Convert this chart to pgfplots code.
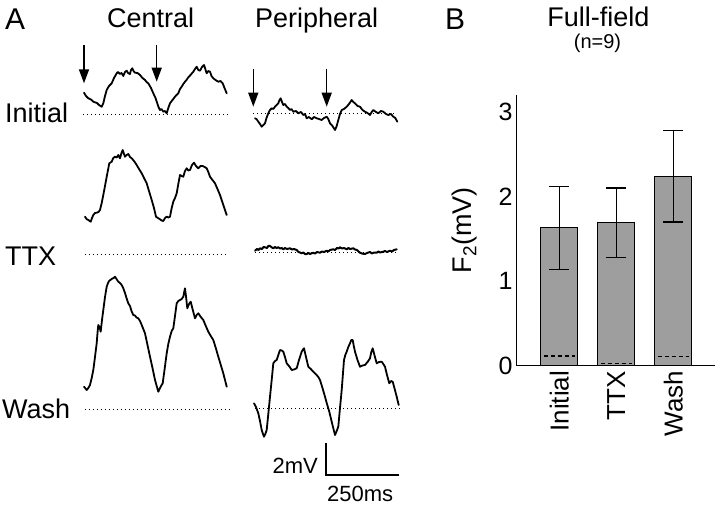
\documentclass[border=0pt]{standalone}
\usepackage{pgfplots}
\pgfplotsset{compat=1.18}
\usepackage{fontspec}
\setmainfont{Liberation Sans}
\usetikzlibrary{arrows.meta}
\newcommand{\fs}[1]{\fontsize{#1bp}{#1bp}\selectfont}
\tikzset{
  trace/.style={black, line width=1.8bp, line join=round, line cap=round},
  base/.style={black, line width=1bp, dash pattern=on 1.3bp off 2.7bp},
  arr/.style={black, line width=1.5bp, -{Triangle[length=14bp,width=10bp]}},
}
\begin{document}
\begin{tikzpicture}
\path[use as bounding box] (0,0) rectangle (720bp,506bp);
\begin{axis}[at={(0,0)}, anchor=south west, scale only axis, width=720bp, height=506bp,
  xmin=0, xmax=720, ymin=0, ymax=506, y dir=reverse, hide axis, clip=false, enlargelimits=false]
% ---------- text ----------
\node[anchor=base west, font={\fs{30}}, inner sep=0] at (axis cs:5,30) {A};
\node[anchor=base west, font={\fs{30}}, inner sep=0] at (axis cs:445,30) {B};
\node[anchor=base west, font={\fs{27}}, inner sep=0] at (axis cs:107,28) {Central};
\node[anchor=base west, font={\fs{27}}, inner sep=0] at (axis cs:255,28) {Peripheral};
\node[anchor=base, font={\fs{27}}, inner sep=0] at (axis cs:598.5,27) {Full-field};
\node[anchor=base, font={\fs{20}}, inner sep=0] at (axis cs:597.5,49) {(n=9)};
\node[anchor=base west, font={\fs{27}}, inner sep=0] at (axis cs:5,123) {Initial};
\node[anchor=base west, font={\fs{27}}, inner sep=0] at (axis cs:5,265) {TTX};
\node[anchor=base west, font={\fs{27}}, inner sep=0] at (axis cs:2,418) {Wash};
\node[anchor=base east, font={\fs{22}}, inner sep=0] at (axis cs:318,473) {2mV};
\node[anchor=base west, font={\fs{22}}, inner sep=0] at (axis cs:327,501) {250ms};
% ---------- baselines ----------
\addplot[base] coordinates {(83,115) (230,115)};
\addplot[base] coordinates {(253,114) (397,114)};
\addplot[base] coordinates {(85,254) (227,254)};
\addplot[base] coordinates {(255,252) (398,252)};
\addplot[base] coordinates {(85,409) (230,409)};
\addplot[base] coordinates {(255,408.3) (400,408.3)};
% ---------- arrows ----------
\draw[arr] (axis cs:84,45) -- (axis cs:84,83.3);
\draw[arr] (axis cs:156.7,45) -- (axis cs:156.7,81.7);
\draw[arr] (axis cs:253.3,69) -- (axis cs:253.3,106.7);
\draw[arr] (axis cs:326.7,69) -- (axis cs:326.7,106.7);
% ---------- scale bar ----------
\addplot[black, line width=1.4bp] coordinates {(326,443) (326,475) (399,475)};
% ---------- Central Initial ----------
\addplot[trace] coordinates {
(84,92.7) (86,96) (88.3,98.3) (91,99.5) (93.3,101.7) (97,103) (99,105) (101.7,106.7) (103.3,103.3)
(105,96) (106.7,90) (109,86) (111.7,83.3) (114,78) (116.7,73.3) (118,72) (120,74) (121.5,73) (123.3,76)
(125,72) (126.7,70.7) (128,73) (130,74) (131,70) (132.3,68.3) (133.5,71) (135,72.7) (137.5,73) (140,75)
(142.5,78) (145,80) (146.5,82) (148.3,83.3) (151,88) (153.3,93.3) (155.5,98) (157.3,103.3) (158.5,107)
(160,110) (161.5,109) (163.3,111.7) (165,111) (166.7,113.3) (168.3,108) (170,103.3) (172.5,100)
(175,96.7) (176.5,95) (178.3,93.3) (180,89) (181.7,86.7) (183.3,84) (185,81.7) (186.5,80) (188.3,77.3)
(190.5,75) (193.3,71.7) (195,69) (196.7,66.7) (198.3,70) (200,70.7) (202,67) (204,65) (205.3,69)
(206.7,73.3) (208.3,71) (210,71.7) (211.5,76) (213.3,78.3) (215.5,80) (218.3,81.7) (220.5,81) (222.7,83.3)
(224.5,88) (226.7,93.3)};
% ---------- Peripheral Initial ----------
\addplot[trace] coordinates {
(255,118.3) (256.5,119) (258.3,121.7) (260,124) (261.7,126.7) (263.3,125) (265,123.3) (266.5,118)
(268.3,113.3) (270,110) (271.7,108.3) (273.3,109) (275,106.7) (276.7,105) (278.3,103.3) (279.5,100)
(280.7,98.3) (282,102) (283.3,105) (285,104) (286.7,106.7) (288.3,108) (290,110) (291.5,109)
(293.3,111.7) (296,111) (298.3,113.3) (301,112) (303.3,115) (305,114) (306.7,118.3) (309,117)
(311.7,119.3) (314,117) (316.7,118.3) (319,119) (321.7,120) (324,118) (326.7,116.7) (328.3,119)
(330,123.3) (332.5,126) (335,130) (336.7,126) (338.3,120) (340,114) (341.7,110) (344,109) (346.7,106.7)
(349,104) (351.7,100) (353.3,102) (355,103.3) (357.5,106) (360,106.7) (362.5,110) (365,111.7)
(367.5,113) (370,115) (371.7,112) (373.3,110) (376,112) (378.3,113.3) (381,111) (383.3,111.7) (386,114)
(388.3,115) (391,114) (393.3,116.7) (395.3,118) (397.3,121.7)};
% ---------- Central TTX ----------
\addplot[trace] coordinates {
(85,216.7) (86.5,219) (88.3,220) (90.7,221.7) (92,218) (93.3,215) (95,213) (96.7,212.7) (98.5,212)
(100,210) (101.7,203) (103.3,195) (105,186) (106.7,176.7) (108,170) (109.3,163.3) (110.5,162.5)
(111.7,161.7) (113.3,158) (115,156.7) (116.7,157.5) (118.3,155) (119.2,157) (120,158.3) (121.5,153)
(122.7,150) (124,154) (125,156.7) (126.7,155) (128.3,154) (130,157) (131.7,158.3) (134,161)
(136.7,165) (139,169) (141.7,173.3) (144,178) (146.7,183.3) (149,191) (151.7,200) (154,208) (156,216.7)
(158,218) (160,219.3) (161.7,220.5) (163.3,221) (165,218) (166.7,216.7) (168.3,217.5) (170,216.7)
(171.7,208) (173.3,201.7) (175,198) (176.7,193.3) (178.3,184) (180,175) (181.7,176) (183.3,176.7)
(185,171) (186.7,168.3) (188.3,170.5) (190,170) (192,165) (194,162.7) (196,166) (198.3,168.3)
(200.5,166) (202.7,166) (204.7,167) (206.7,168.3) (208.3,172) (210,176.7) (212.5,180) (215,183.3)
(217.5,189) (220,195) (223.3,205) (226.7,215)};
% ---------- Peripheral TTX ----------
\addplot[trace, line width=2bp] coordinates {
(255,250.7) (257,249) (258.5,250) (260,248.3) (262,249) (263.5,247) (265,247.3) (267,248) (268.5,245.8)
(270,246) (272,247.5) (273.3,248.3) (275,247) (276.5,248) (278.3,247.3) (280,248.5) (281.7,248)
(283.3,249.3) (285,248) (287,249) (290,248.3) (292,249.5) (294,249) (296.7,250) (298.5,252)
(300,252.5) (301.7,253.3) (303.5,252.5) (305,254) (306.7,254) (308.5,253) (310,254) (313.3,252.7)
(315,253.5) (317,252) (320,252.7) (322,251.5) (324,252) (326.7,250.7) (328.5,251.5) (330,250)
(333.3,249.3) (335,250) (337,248) (338.5,248.5) (340,247.3) (342,248.5) (344,248) (346.7,249.3)
(348.5,248) (350,249) (353.3,248.3) (355,249.5) (357,250) (358.5,251.5) (360,252.7) (362,253.5)
(365,254) (367,253) (370,252) (372,253.5) (374,252.5) (376.7,252.7) (378.5,251.5) (380,252.5)
(383.3,251.7) (385,251) (387,252) (390,250.7) (392,251.5) (394,250) (396.7,249.3)};
% ---------- Central Wash ----------
\addplot[trace] coordinates {
(84,386.7) (85.5,388.5) (86.7,390) (88.3,388) (90,385) (91.7,378) (93.3,370) (95,357) (96.7,343.3)
(97.5,333) (98.3,325) (99.5,327) (100.7,331.7) (102,320) (103.3,310) (105,297) (106.7,286.7)
(108,283) (109.3,280.7) (111,279.5) (112.7,278.3) (113.8,278) (115,276.7) (116.5,279) (118.3,281.7)
(120,283) (121.7,285) (123.3,288.3) (125,293) (126.5,298) (128.3,303.3) (130,306) (131.5,311)
(133.3,315) (135,315.5) (136.5,317.5) (138.3,318.3) (140,321) (141.7,325) (143.3,329) (145,333.3)
(147.5,345) (150,356.7) (152.5,368) (155,380) (156.7,386) (158.3,391.7) (160.5,387) (162.7,383.3)
(164.5,370) (166.7,353.3) (168.3,344) (170,336.7) (171.7,331) (173.3,328.3) (175,316) (176.7,303.3)
(178.3,301) (180,300) (181.7,299) (183.3,296.7) (184.2,292) (185,288.3) (186.2,298) (187.3,308.3)
(189,304) (190.7,301.7) (192.8,310) (195,318.3) (196.7,315) (198.3,313.3) (200.8,317) (203.3,320)
(205.8,326) (208.3,331.7) (210.8,336) (213.3,340) (215.8,348) (218.3,356.7) (220.8,365)
(223.3,373.3) (225,380) (226.7,386.7)};
% ---------- Peripheral Wash ----------
\addplot[trace] coordinates {
(254,403.3) (256,407) (258.3,413.3) (260,421) (261.7,430) (263,434) (264,436.7) (265.3,434)
(266.7,430) (268.3,414) (270,396.7) (271.7,380) (273.3,363.3) (275,361) (276.7,360) (278.3,355)
(280,350) (281.7,350.5) (283.3,351.7) (285,357) (286.7,363.3) (289,366) (291.7,370) (294,369.5)
(296.7,368.3) (299,360) (301.7,351.7) (303,349.5) (304,348.3) (306,357) (308.3,366.7) (310.8,369)
(313.3,371.7) (316.7,375) (318.3,377) (320,380) (322.5,388) (325,396.7) (327,404) (329.3,411.7)
(332,423) (335,435) (336.7,431) (338.3,426.7) (340,408) (341.7,390) (343,373) (344,360) (345.3,355)
(346.7,351.7) (348.3,347) (350,343.3) (351.3,340) (352.7,340) (353.8,346) (355,351.7) (357.5,360)
(360,366.7) (362.5,365.5) (365,365) (367.5,362) (370,358.3) (371.3,352) (372.7,348.3) (374.7,356)
(376.7,363.3) (379,362) (381.7,361.7) (383.3,364) (385,366.7) (387,375) (389.3,383.3) (391,381)
(392.7,381.7) (394.7,389) (396.7,396.7) (398.7,405)};
\end{axis}
% ---------- Panel B ----------
\begin{axis}[at={(516.7bp,140.3bp)}, anchor=south west, scale only axis,
  width=198.3bp, height=270.7bp,
  xmin=-0.746, xmax=2.733, ymin=0, ymax=3.2,
  axis x line=bottom, axis y line=left,
  axis line style={-, line width=1.1bp, black},
  xtick={0,1,2}, xticklabels={Initial,TTX,Wash},
  ytick={0,1,2,3}, major tick length=0,
  /pgf/number format/assume math mode=true,
  x tick label style={rotate=90, anchor=east, font={\fs{26}}, inner sep=5bp},
  y tick label style={font={\fs{25}}, inner sep=4bp},
  ylabel={F\textsubscript{2}(mV)},
  every axis y label/.style={at={(axis description cs:-0.262,0.5)}, rotate=90, anchor=center, font={\fs{27}}},
  clip=false]
\addplot[ybar, bar width=37bp, fill=black!38, draw=black, line width=1.2bp,
  error bars/.cd, y dir=both, y explicit,
  error bar style={line width=1.3bp, black},
  error mark options={rotate=90, mark size=10bp, line width=1.3bp, black}]
  coordinates {(0,1.63) +- (0,0.49) (1,1.69) +- (0,0.41) (2,2.24) +- (0,0.54)};
\addplot[black, line width=1.2bp, dash pattern=on 4bp off 3bp] coordinates {(-0.27,0.114) (0.27,0.114)};
\addplot[black, line width=1.2bp, dash pattern=on 4bp off 3bp] coordinates {(0.73,0.03) (1.27,0.03)};
\addplot[black, line width=1.2bp, dash pattern=on 4bp off 3bp] coordinates {(1.73,0.106) (2.27,0.106)};
\end{axis}
\end{tikzpicture}
\end{document}
